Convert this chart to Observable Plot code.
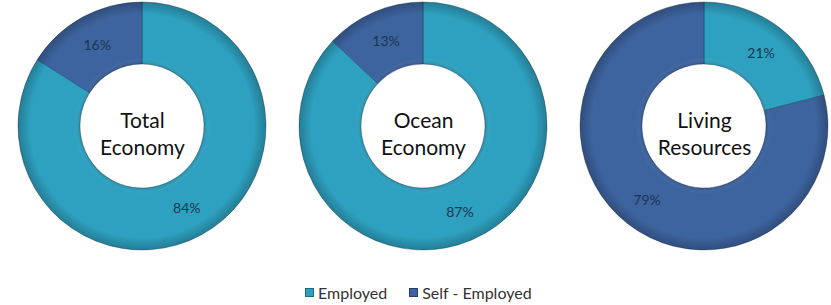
<!DOCTYPE html>
<html>
<head>
<meta charset="utf-8">
<script src="https://cdn.jsdelivr.net/npm/d3@7"></script>
<script src="https://cdn.jsdelivr.net/npm/@observablehq/plot@0.6"></script>
<style>
  html, body { margin: 0; padding: 0; background: #fff; }
  #chart { width: 831px; }
  .legend { display: flex; align-items: center; font-family: Lato, "Open Sans", sans-serif; font-size: 16px; color: #333; margin-top: 21px; padding-left: 305px; }
  .legend .item { display: flex; align-items: center; margin-right: 22px; }
  .legend .sw { width: 9px; height: 9px; margin-right: 4px; box-sizing: border-box; border: 1px solid rgba(0,0,0,0.35); }
</style>
</head>
<body>
<div id="chart"></div>
<script>
const categories = ["Total\nEconomy", "Ocean\nEconomy", "Living\nResources"];
const seriesNames = ["Employed", "Self - Employed"];
const employed = [84, 87, 21];
const selfEmployed = [16, 13, 79];
const seriesColors = ["#2ea1c0", "#3e64a0"];

const rows = [];
categories.forEach((c, i) => {
  rows.push({category: c, series: seriesNames[0], value: employed[i]});
  rows.push({category: c, series: seriesNames[1], value: selfEmployed[i]});
});

const outerR = 124, innerR = 62, cy = 126;

function donuts(index, scales, values, dimensions) {
  const g = d3.create("svg:g");
  const defs = g.append("defs");
  const arc = d3.arc().innerRadius(innerR).outerRadius(outerR);
  const labelArc = d3.arc().innerRadius((innerR + outerR) / 2).outerRadius((innerR + outerR) / 2);
  const pie = d3.pie().sort(null).value(d => d.value);
  categories.forEach((c, ci) => {
    const cx = scales.x(c);
    const data = rows.filter(r => r.category === c);
    const arcs = pie(data);
    const gg = g.append("g").attr("transform", `translate(${cx},${cy})`);
    gg.selectAll("path.slice").data(arcs).join("path")
      .attr("class", "slice")
      .attr("d", arc)
      .attr("fill", d => scales.color(d.data.series))
      .attr("stroke", "rgba(10,40,70,0.45)")
      .attr("stroke-width", 0.8);
    const gid = "shade" + ci;
    const rg = defs.append("radialGradient").attr("id", gid)
      .attr("gradientUnits", "userSpaceOnUse").attr("cx", 0).attr("cy", 0).attr("r", outerR);
    rg.append("stop").attr("offset", innerR / outerR).attr("stop-color", "#000").attr("stop-opacity", 0.12);
    rg.append("stop").attr("offset", (innerR + 6) / outerR).attr("stop-color", "#fff").attr("stop-opacity", 0.0);
    rg.append("stop").attr("offset", 0.9).attr("stop-color", "#000").attr("stop-opacity", 0.0);
    rg.append("stop").attr("offset", 1).attr("stop-color", "#000").attr("stop-opacity", 0.22);
    gg.append("path")
      .attr("d", d3.arc().innerRadius(innerR).outerRadius(outerR).startAngle(0).endAngle(2 * Math.PI)())
      .attr("fill", `url(#${gid})`)
      .attr("pointer-events", "none");
    gg.selectAll("text.pct").data(arcs).join("text")
      .attr("class", "pct")
      .attr("transform", d => `translate(${labelArc.centroid(d)})`)
      .attr("text-anchor", "middle")
      .attr("dominant-baseline", "central")
      .attr("font-family", "Lato, 'Open Sans', sans-serif")
      .attr("font-size", 14)
      .attr("fill", "#1b3550")
      .text(d => d.data.value + "%");
  });
  return g.node();
}

const chart = Plot.plot({
  width: 831,
  height: 262,
  margin: 0,
  x: {type: "point", domain: categories, range: [141, 704], padding: 0, axis: null},
  y: {axis: null},
  color: {domain: seriesNames, range: seriesColors},
  marks: [
    Plot.dot(rows, {x: "category", fill: "series", r: 0, stroke: null}),
    donuts,
    Plot.text(categories, {
      x: d => d,
      text: d => d,
      frameAnchor: "middle",
      dy: 1,
      lineHeight: 1.3,
      fontSize: 21,
      fontFamily: "Lato, 'Open Sans', sans-serif",
      fill: "#111"
    })
  ]
});

document.getElementById("chart").appendChild(chart);

const legend = d3.select("#chart").append("div").attr("class", "legend");
seriesNames.forEach((s, i) => {
  const it = legend.append("div").attr("class", "item");
  it.append("div").attr("class", "sw").style("background", seriesColors[i]);
  it.append("span").text(s);
});
</script>
</body>
</html>
